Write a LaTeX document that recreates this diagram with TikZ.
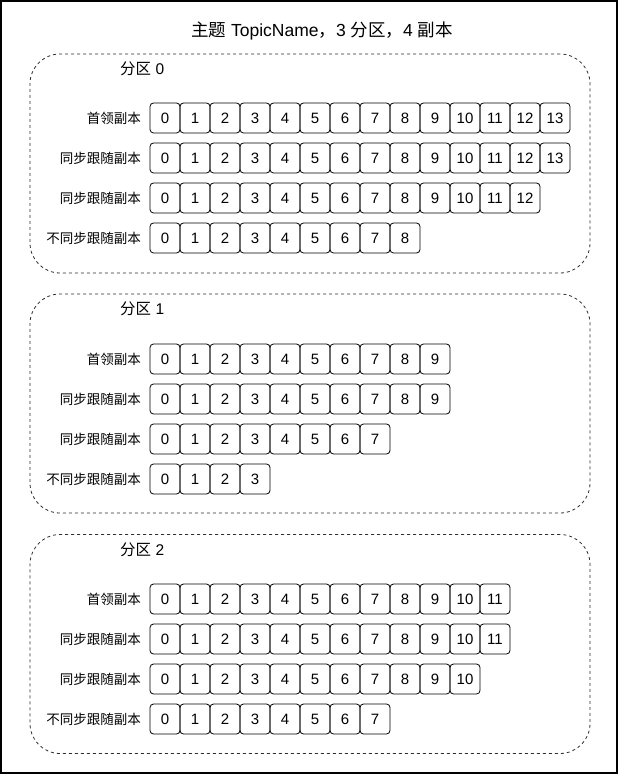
\documentclass[tikz,border=0pt]{standalone}
\usepackage{fontspec}
\setmainfont{Liberation Sans}
\newfontfamily\cjk{Noto Sans CJK SC}
\usetikzlibrary{positioning}
\definecolor{DashGray}{HTML}{2E2E2E}
\tikzset{
  cell/.style={draw=black, line width=0.8pt, rounded corners=3.5pt, minimum width=30pt, minimum height=30pt, inner sep=0pt, font=\fontsize{15}{17}\selectfont},
  rolelabel/.style={anchor=east, inner sep=0pt, font=\cjk\fontsize{13.5}{15}\selectfont},
  parttitle/.style={anchor=west, inner sep=0pt, font=\fontsize{15.5}{17}\selectfont},
  partbox/.style={draw=DashGray, dashed, line width=0.8pt, rounded corners=30pt, minimum width=560pt, minimum height=219pt, inner sep=0pt},
  pagebox/.style={draw=black, line width=1.2pt, minimum width=616pt, minimum height=772pt, inner sep=0pt}
}
% one replica row: name, y, label, last offset
\newcommand{\replicarow}[4]{%
  \node[rolelabel] (#1l) at (141,#2) {#3};
  \foreach \i in {0,...,#4} {\node[cell] (#1c\i) at ({165+30*\i},#2) {\i};}
}

\begin{document}
\begin{tikzpicture}[x=1pt, y=-1pt]
\useasboundingbox (0,0) rectangle (621,775);
\node[pagebox] (page) at (309,387) {};
\node[font=\fontsize{17.5}{19}\selectfont] (title) at (322,31) {{\cjk 主题} TopicName{\cjk ，}3 {\cjk 分区}{\cjk ，}4 {\cjk 副本}};

% partition 0
\node[partbox] (part0) at (310,163.5) {};
\node[parttitle] (part0t) at (120,69) {{\cjk 分区} 0};
\replicarow{p0a}{118}{首领副本}{13}
\replicarow{p0b}{158}{同步跟随副本}{13}
\replicarow{p0c}{198}{同步跟随副本}{12}
\replicarow{p0d}{238}{不同步跟随副本}{8}

% partition 1
\node[partbox] (part1) at (310,403.5) {};
\node[parttitle] (part1t) at (120,309) {{\cjk 分区} 1};
\replicarow{p1a}{359}{首领副本}{9}
\replicarow{p1b}{399}{同步跟随副本}{9}
\replicarow{p1c}{439}{同步跟随副本}{7}
\replicarow{p1d}{479}{不同步跟随副本}{3}

% partition 2
\node[partbox] (part2) at (310,644) {};
\node[parttitle] (part2t) at (120,550) {{\cjk 分区} 2};
\replicarow{p2a}{599}{首领副本}{11}
\replicarow{p2b}{639}{同步跟随副本}{11}
\replicarow{p2c}{679}{同步跟随副本}{10}
\replicarow{p2d}{719}{不同步跟随副本}{7}
\end{tikzpicture}
\end{document}
